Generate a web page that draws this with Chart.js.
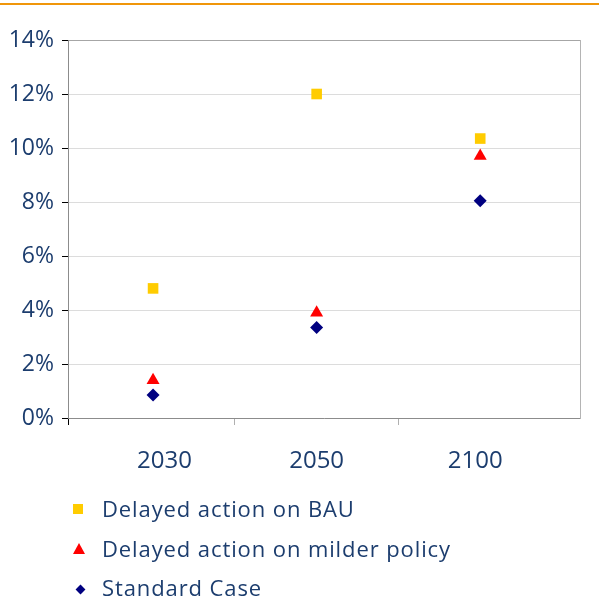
<!DOCTYPE html>
<html>
<head>
<meta charset="utf-8">
<script src="https://cdn.jsdelivr.net/npm/chart.js@4.4.0/dist/chart.umd.min.js"></script>
<style>
  body { margin: 0; background: #fff; }
  .wrap { position: relative; width: 599px; height: 600px; font-family: 'Open Sans', sans-serif; color: #1c3d6e; }
  .topline { position: absolute; left: 0; top: 3px; width: 599px; height: 2px; background: #f0960a; }
  .legend { position: absolute; left: 0; top: 0; }
  .item { position: absolute; left: 102px; font-size: 22px; line-height: 24px; letter-spacing: 0.9px; white-space: nowrap; }
  .mk { position: absolute; }
  .sq { width: 10px; height: 10px; background: #ffcc00; }
  .tri { width: 0; height: 0; border-left: 6px solid transparent; border-right: 6px solid transparent; border-bottom: 11px solid #ff0000; }
  .dia { width: 7px; height: 7px; background: #000080; transform: rotate(45deg); }
</style>
</head>
<body>
<div class="wrap">
  <div class="topline"></div>
  <canvas id="chart" width="599" height="600"></canvas>
  <div class="legend" id="legend"></div>
</div>
<script>
const years = ['2030', '2050', '2100']
const seriesNames = ['Delayed action on BAU', 'Delayed action on milder policy', 'Standard Case']
const bau = [4.8, 12.0, 10.35]
const milder = [1.4, 3.9, 9.7]
const standard = [0.85, 3.35, 8.05]
const yTicks = [0, 2, 4, 6, 8, 10, 12, 14]

const textColor = '#1c3d6e'
const toPoints = (values) => values.map((v, i) => ({ x: i, y: v }))

const config = {
  type: 'scatter',
  data: {
    datasets: [
      {
        label: seriesNames[0],
        data: toPoints(bau),
        pointStyle: 'rect',
        pointRadius: 7.5,
        backgroundColor: '#ffcc00',
        borderColor: '#ffcc00',
        borderWidth: 0,
      },
      {
        label: seriesNames[1],
        data: toPoints(milder),
        pointStyle: 'triangle',
        pointRadius: 7.5,
        backgroundColor: '#ff0000',
        borderColor: '#ff0000',
        borderWidth: 0,
      },
      {
        label: seriesNames[2],
        data: toPoints(standard),
        pointStyle: 'rectRot',
        pointRadius: 6.5,
        backgroundColor: '#000080',
        borderColor: '#000080',
        borderWidth: 0,
      },
    ],
  },
  options: {
    responsive: false,
    animation: false,
    events: [],
    layout: { padding: { top: 40, right: 19, left: 0, bottom: 0 } },
    plugins: { legend: { display: false }, tooltip: { enabled: false } },
    scales: {
      x: {
        type: 'linear',
        position: 'bottom',
        weight: 0,
        min: -0.52,
        max: 2.61,
        afterBuildTicks: (scale) => {
          scale.ticks = [{ value: -0.52 }, { value: 0.5 }, { value: 1.5 }]
        },
        ticks: { display: false },
        grid: {
          drawOnChartArea: false,
          tickLength: 7,
          tickColor: (ctx) => (ctx.index === 0 ? '#000' : '#b0b0b0'),
        },
        border: { color: '#8c8c8c' },
      },
      xLabels: {
        type: 'linear',
        position: 'bottom',
        weight: 1,
        min: -0.52,
        max: 2.61,
        afterBuildTicks: (scale) => {
          const labelAt = [0.07, 1, 1.97]
          scale.ticks = years.map((y, i) => ({ value: labelAt[i], label: y }))
        },
        afterFit: (scale) => {
          scale.height = 175
        },
        ticks: {
          autoSkip: false,
          maxRotation: 0,
          padding: 22,
          color: textColor,
          font: { family: 'Open Sans', size: 24 },
          callback: function (value, index) {
            return years[index]
          },
        },
        grid: { display: false, drawTicks: false },
        border: { display: false },
      },
      y: {
        min: 0,
        max: 14,
        afterBuildTicks: (scale) => {
          scale.ticks = yTicks.map((v) => ({ value: v }))
        },
        afterFit: (scale) => {
          scale.width = 68
        },
        ticks: {
          padding: 8,
          color: textColor,
          font: { family: 'Open Sans', size: 23 },
          callback: (value) => value + '%',
        },
        grid: {
          color: (ctx) => (ctx.tick && ctx.tick.value === 14 ? '#a6a6a6' : '#dcdcdc'),
          tickColor: '#000',
          tickLength: 6,
        },
        border: { color: '#8c8c8c' },
      },
      yRight: {
        position: 'right',
        min: 0,
        max: 14,
        ticks: { display: false },
        grid: { display: false, drawTicks: false },
        border: { color: '#b4b4b4' },
        afterFit: (scale) => {
          scale.width = 0
        },
      },
    },
  },
}

new Chart(document.getElementById('chart').getContext('2d'), config)

// legend, one item per row
const markers = ['sq', 'tri', 'dia']
const textTops = [496, 535.5, 575]
const markerCenters = [[78, 508.5], [79, 548], [80, 589]]
const markerSize = [[10, 10], [12, 11], [7, 7]]
const legend = document.getElementById('legend')
seriesNames.forEach((name, i) => {
  const mk = document.createElement('div')
  mk.className = 'mk ' + markers[i]
  mk.style.left = markerCenters[i][0] - markerSize[i][0] / 2 + 'px'
  mk.style.top = markerCenters[i][1] - markerSize[i][1] / 2 + 'px'
  legend.appendChild(mk)
  const item = document.createElement('div')
  item.className = 'item'
  item.style.top = textTops[i] + 'px'
  item.textContent = name
  legend.appendChild(item)
})
</script>
</body>
</html>
